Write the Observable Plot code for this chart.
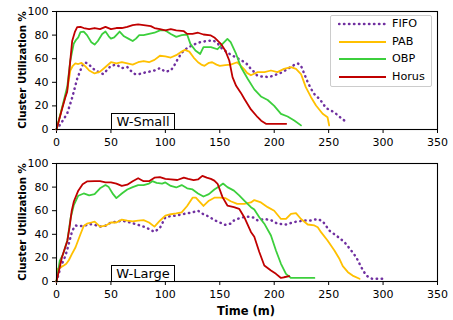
<!DOCTYPE html>
<html>
<head>
<meta charset="utf-8">
<script src="https://cdn.jsdelivr.net/npm/d3@7"></script>
<script src="https://cdn.jsdelivr.net/npm/@observablehq/plot@0.6"></script>
<style>
  body { margin: 0; background: #fff; }
  #wrap { position: relative; width: 453px; height: 320px; font-family: "DejaVu Sans", sans-serif; color: #000; }
  #wrap svg { display: block; }
  .ylab { position: absolute; left: 22px; transform: translate(-50%, -50%) rotate(-90deg); white-space: nowrap; font-weight: bold; font-size: 10.2px; }
  .xlab { position: absolute; left: 246px; top: 311px; transform: translate(-50%, -50%); white-space: nowrap; font-weight: bold; font-size: 11.5px; }
  .tag { position: absolute; left: 111px; width: 62px; height: 15px; border: 1px solid #000; background: #fff; font-size: 13px; line-height: 15px; text-align: center; box-sizing: content-box; }
  .legend { position: absolute; left: 330px; top: 15px; width: 100px; height: 70px; border: 1px solid #cccccc; border-radius: 2px; background: #fff; font-size: 11.2px; }
  .legend .row { position: absolute; left: 0; height: 14px; line-height: 14px; }
  .legend svg { position: absolute; left: 7px; top: 2px; }
  .legend span { position: absolute; left: 61px; white-space: nowrap; }
</style>
</head>
<body>
<div id="wrap"></div>
<script>
// ---- data ----
const seriesNames = ["FIFO", "PAB", "OBP", "Horus"];
const seriesColors = ["#7030A0", "#FFC000", "#3CCF3C", "#C00000"];
const xTicks = [0, 50, 100, 150, 200, 250, 300, 350];
const yTicks = [0, 20, 40, 60, 80, 100];
const panelTags = ["W-Small", "W-Large"];

const smallFIFO = [[0,0],[4,5],[9.8,13.5],[14.4,27],[17,36],[19,43],[21.5,49],[23.6,54],[26,57],[28.2,56],[30,55],[33,52],[36,50],[40,48],[43,47],[46,50],[50,54],[55,55],[60,52],[65,53],[68,50],[72,47],[76,47],[80,48],[85,49],[90,50],[95,52],[100,49],[105,50],[108,54],[111,59],[115,65],[120,69],[126,72],[132,74],[138,75],[144,75.5],[148,73],[152,68.5],[156,66],[159,64],[163,62],[167,60],[171,58],[175.6,55],[178,52],[181.7,48.6],[184,46],[187.8,45],[191,45],[194,44.4],[197,45],[200,45.8],[203,47],[206,48],[209,49.5],[212,51],[215,53],[217,54],[219,55],[221.6,56],[224.6,54],[227.7,47],[230.8,40],[233.8,34.5],[236.9,30],[239,28],[241.5,26],[244,23],[246,20.3],[248,18],[250.7,16.7],[255,14.7],[259.9,11],[262,9],[264.5,7.6]];
const smallPAB = [[0,0],[5,18],[9.8,33],[12.7,50],[15,54],[17.3,56],[20,55.5],[23,56.5],[27,53],[30,50],[35,47.5],[40,49],[45,53],[50,57],[55,56],[60,57],[65,56],[70,55],[75,57],[80,58],[85,57],[90,59],[95,62.5],[100,62],[105,61],[110,63],[115,66],[118,67.5],[122,66],[126,61],[130,57],[133,55],[136,54],[140,56.5],[143,57],[147,55],[150,54],[155,54.5],[160,55],[166,57],[169.4,54],[172.5,51],[175,48],[178.6,46],[181,47],[184.8,48.6],[191,48.6],[197,50],[203,48.6],[209,51.4],[215.4,52.8],[220,51.4],[224.6,47],[227,41],[229,35.9],[233.8,27.4],[238.4,20.3],[244.5,13.3],[249,10.4],[250.5,3.4]];
const smallOBP = [[0,0],[5,18],[10,37],[12.7,58.5],[15.8,72.6],[18,76],[20,78],[22,82.5],[25,83],[28,80],[32,74],[35,72],[38,75],[42,81],[45,83],[48,79],[50,77],[53,78],[55,80],[58,83],[62,79],[66,77],[70,75],[73,77],[76,80],[80,80],[85,81],[90,82],[95,84],[100,84],[105,81],[110,78.5],[115,80],[120,80.5],[123,72.6],[127.6,67],[132,64],[135,69.8],[141.8,69.8],[147.9,68],[152.5,72.6],[157,76.8],[160,74],[165,64],[169.4,53],[175.6,43],[181.7,34],[187.8,28],[194,25],[200,20],[206.2,13.3],[212.3,11],[218.4,7.6],[224.6,3.5]];
const smallHorus = [[0,0],[4.7,16],[8,27],[9.8,32],[12,52],[14.4,75],[17,83],[19,86.7],[22,87],[25,86],[30,85],[35,86],[40,85],[45,87],[50,85],[55,86],[60,86],[65,87],[70,88.5],[75,89],[80,88.5],[86.6,87.6],[90,86],[95,85],[100,84],[105,85],[110,84],[117,83.3],[120,81],[125,81],[130,82],[135,80.5],[141.8,79.7],[145,78],[151,72.6],[155,67],[158.7,58.5],[161.7,44.4],[165,37],[169.4,31],[172.5,26],[178.6,17],[184.8,10.4],[188,7.5],[192.4,4.8],[211,4.8]];

const largeFIFO = [[0,0],[3.7,12],[8.3,22],[11.3,32],[14.4,43],[17.5,47.5],[20,47],[25,47],[30,48.7],[35,48],[40,46.5],[45,47.3],[50,50],[55,50.7],[60,51.5],[65,50.7],[70,49.3],[75,48],[80,46.5],[85,44.5],[90,42],[95,45.4],[100,54.4],[105,55.5],[110,55.8],[115,57],[120,57.7],[125,58.6],[130,60],[135,57],[140,55],[145,52],[150,50],[155,48],[160,49],[163,51.7],[169,54],[175.6,55],[181.7,54],[184.8,51.7],[191,53],[197,52],[203,49],[210.8,48.3],[218.4,50.4],[227.7,51.7],[233.8,51.7],[240,53],[244.6,51],[250.8,43],[257,39],[264.6,33.3],[270.7,26.3],[275.3,20.6],[280,12],[284.5,5],[290,2.3],[301.4,2.3]];
const largePAB = [[0,0],[1,10.5],[6.7,13.6],[9,15],[11.3,18],[14,23],[17.5,29],[22,40],[25,47],[28,49],[32,50],[35,50.7],[40,46.5],[45,47.3],[50,50],[55,50],[60,52.4],[65,51.5],[70,51],[75,51.5],[80,52],[85,50],[90,46.5],[95,51.5],[100,55.8],[105,57],[110,57.7],[115,58.6],[120,64],[125,71],[128,71],[132,67],[135,64],[140,68.5],[145,71],[150,71],[155,70.7],[160,68],[166,65.8],[172.5,65.8],[178.6,67],[181.7,69],[187.8,67],[194,63],[200,60],[206.2,53],[210.8,53],[215.4,57.4],[220,58],[224.6,53],[230.8,48.3],[236.9,47.5],[240,46],[243,41.8],[249,34.7],[255.3,26.3],[260,19],[263,13],[267.7,7.9],[272,5],[278.4,2.3]];
const largeOBP = [[0,0],[3,17.7],[6,23],[10,35],[13,54],[16,65],[20,72.7],[25,74.6],[30,73],[35,74],[40,79],[45,81.7],[48,80],[52,74],[55,70.7],[60,74.6],[65,78],[70,80],[75,81.7],[80,81.7],[85,83],[88,85],[92,83.6],[97,83],[100,84],[105,81],[110,79.7],[115,81.7],[120,79],[125,78],[130,74.6],[135,72],[140,74],[145,78],[150,81],[153,83],[157,80],[163,77],[167.8,73],[172.5,68.6],[178.6,63],[181.7,61],[186.3,54.5],[190.9,49],[197,39],[201.6,26.3],[206.2,15],[210.8,6.5],[215.4,3],[236.9,3]];
const largeHorus = [[0,0],[5,20.6],[10,34.6],[12,46],[14,60],[16,68],[20,77],[24,82.5],[28,84.8],[35,85],[40,85],[45,84],[50,84],[55,83],[60,81],[65,82],[70,85],[75,87.5],[80,85],[85,85],[90,88],[95,88.5],[100,87],[105,86.5],[111,86],[117,88],[121,87],[126,86],[130,86.5],[134,89.5],[138,88],[141.8,87],[145,85.5],[148,82.8],[152.5,71.5],[157,64.4],[163,63],[167.8,61.6],[172.5,54.5],[178.6,42],[181.7,38],[186.3,25],[190.9,13.6],[197,9.3],[201.6,6.5],[206.2,3],[209,3.6],[213.8,4.5]];

const panels = [
  [smallFIFO, smallPAB, smallOBP, smallHorus],
  [largeFIFO, largePAB, largeOBP, largeHorus]
];

// ---- drawing ----
const wrap = document.getElementById("wrap");

function lineMarks(sets) {
  return sets.map((pts, i) => {
    const rows = pts.map(([t, v]) => ({t, v}));
    const opts = {x: "t", y: "v", stroke: seriesColors[i], strokeWidth: 1.8};
    if (i === 0) Object.assign(opts, {strokeWidth: 2.5, strokeDasharray: "0.4,4.6", strokeLinecap: "round"});
    return Plot.line(rows, opts);
  });
}

function panel(sets, height, mb) {
  return Plot.plot({
    width: 453, height, marginLeft: 56, marginRight: 16, marginTop: 11, marginBottom: mb,
    x: {domain: [0, 350]},
    y: {domain: [0, 100]},
    style: {fontFamily: "DejaVu Sans", fontSize: "11px", color: "#000", background: "transparent"},
    marks: [
      Plot.axisX({ticks: xTicks, tickSize: 4, tickPadding: 5, label: null}),
      Plot.axisY({ticks: yTicks, tickSize: 4, tickPadding: 4, label: null}),
      ...lineMarks(sets),
      Plot.frame({stroke: "#000", strokeWidth: 1.1})
    ]
  });
}

wrap.appendChild(panel(panels[0], 152, 23));
wrap.appendChild(panel(panels[1], 168, 39));

// axis labels
[70, 222].forEach(y => {
  const d = document.createElement("div");
  d.className = "ylab"; d.style.top = y + "px"; d.textContent = "Cluster Utilization %";
  wrap.appendChild(d);
});
const xl = document.createElement("div");
xl.className = "xlab"; xl.textContent = "Time (m)";
wrap.appendChild(xl);

// panel tags
[113, 265].forEach((top, i) => {
  const d = document.createElement("div");
  d.className = "tag"; d.style.top = top + "px"; d.textContent = panelTags[i];
  wrap.appendChild(d);
});

// legend
const lg = document.createElement("div");
lg.className = "legend";
seriesNames.forEach((name, i) => {
  const row = document.createElement("div");
  row.className = "row";
  row.style.top = (1 + i * 17.6) + "px";
  const dash = i === 0 ? 'stroke-width="2.5" stroke-dasharray="0.4,4.6" stroke-linecap="round"' : 'stroke-width="1.8"';
  row.innerHTML = `<svg width="50" height="10"><line x1="1" y1="5" x2="48" y2="5" stroke="${seriesColors[i]}" ${dash}/></svg><span>${name}</span>`;
  lg.appendChild(row);
});
wrap.appendChild(lg);
</script>
</body>
</html>
